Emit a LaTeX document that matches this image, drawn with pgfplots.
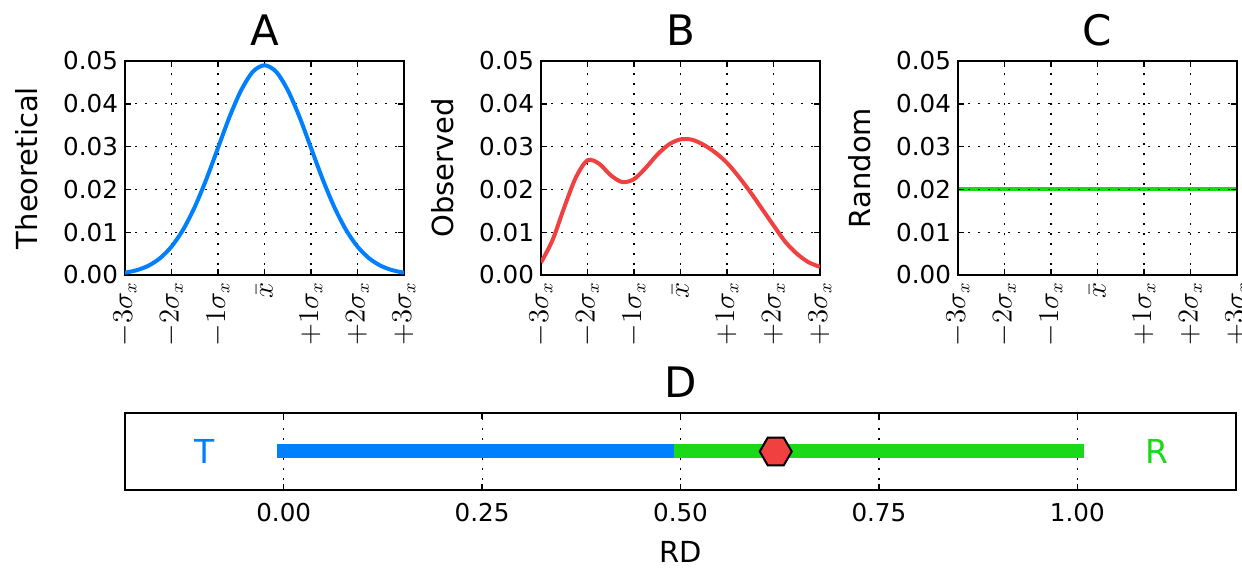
\documentclass[border=0pt]{standalone}
\usepackage{pgfplots}
\pgfplotsset{compat=1.18}
\usepackage{fontspec}
\setmainfont{DejaVu Sans}
\definecolor{cblue}{rgb}{0.0,0.5,1.0}
\definecolor{cred}{rgb}{0.94,0.25,0.25}
\definecolor{cgreen}{rgb}{0.1,0.85,0.1}
\pgfdeclareplotmark{hexagon}{%
  \pgfpathmoveto{\pgfqpointpolar{0}{\pgfplotmarksize}}%
  \pgfpathlineto{\pgfqpointpolar{60}{\pgfplotmarksize}}%
  \pgfpathlineto{\pgfqpointpolar{120}{\pgfplotmarksize}}%
  \pgfpathlineto{\pgfqpointpolar{180}{\pgfplotmarksize}}%
  \pgfpathlineto{\pgfqpointpolar{240}{\pgfplotmarksize}}%
  \pgfpathlineto{\pgfqpointpolar{300}{\pgfplotmarksize}}%
  \pgfpathclose
  \pgfusepathqfillstroke}
\pgfplotsset{
  common/.style={
    scale only axis,
    axis line style={black, line width=1pt},
    tick style={black, line width=0.7pt},
    major tick length=3pt,
    tick align=inside,
    grid=major,
    major grid style={black, line width=0.6pt, dash pattern=on 1pt off 4pt},
    ticklabel style={font=\fontsize{12.3}{14}\selectfont},
    title style={font=\fontsize{21}{25}\selectfont, yshift=-2pt},
    label style={font=\fontsize{14.5}{17}\selectfont},
    scaled ticks=false,
  },
  panel/.style={
    common,
    width=139.5pt, height=107pt,
    xmin=-3, xmax=3, ymin=0, ymax=0.05,
    xtick={-3,-2,-1,0,1,2,3},
    xticklabels={$-3\sigma_x$,$-2\sigma_x$,$-1\sigma_x$,$\bar{x}$,$+1\sigma_x$,$+2\sigma_x$,$+3\sigma_x$},
    xticklabel style={rotate=90, anchor=east, font=\fontsize{13.5}{16}\selectfont},
    ytick={0,0.01,0.02,0.03,0.04,0.05},
    yticklabels={0.00,0.01,0.02,0.03,0.04,0.05},
    ylabel style={yshift=6pt},
  },
}
\begin{document}
\begin{tikzpicture}
\useasboundingbox (0pt,0pt) rectangle (621pt,284pt);
% A
\begin{axis}[panel, at={(62.5pt,146.5pt)}, anchor=south west, title={A}, ylabel={Theoretical}]
\addplot[cblue, line width=2pt, smooth] coordinates {
(-3,0.00054) (-2.75,0.00112) (-2.5,0.00215) (-2.25,0.0039) (-2,0.00663) (-1.75,0.0106)
(-1.5,0.0159) (-1.25,0.0224) (-1,0.0297) (-0.75,0.0370) (-0.5,0.0432) (-0.25,0.0475)
(0,0.049) (0.25,0.0475) (0.5,0.0432) (0.75,0.0370) (1,0.0297) (1.25,0.0224)
(1.5,0.0159) (1.75,0.0106) (2,0.00663) (2.25,0.0039) (2.5,0.00215) (2.75,0.00112) (3,0.00054)};
\end{axis}
% B
\begin{axis}[panel, at={(270.5pt,146.5pt)}, anchor=south west, title={B}, ylabel={Observed}]
\addplot[cred, line width=2pt, smooth] coordinates {
(-3,0.0029) (-2.75,0.0082) (-2.5,0.0158) (-2.25,0.0228) (-2,0.0268) (-1.75,0.0260)
(-1.5,0.0233) (-1.25,0.0217) (-1,0.0224) (-0.75,0.0250) (-0.5,0.0281) (-0.25,0.0305)
(0,0.0317) (0.25,0.0316) (0.5,0.0304) (0.75,0.0286) (1,0.0262) (1.25,0.0230)
(1.5,0.0194) (1.75,0.0155) (2,0.0116) (2.25,0.0078) (2.5,0.0050) (2.75,0.0030) (3,0.0019)};
\end{axis}
% C
\begin{axis}[panel, at={(479pt,146.5pt)}, anchor=south west, title={C}, ylabel={Random}, axis on top]
\addplot[cgreen, line width=2pt] coordinates {(-3,0.02) (3,0.02)};
\end{axis}
% D
\begin{axis}[common, at={(62.5pt,39pt)}, anchor=south west, width=555.5pt, height=38.5pt,
  xmin=-0.2, xmax=1.2, ymin=-1, ymax=1,
  xtick={0,0.25,0.5,0.75,1}, xticklabels={0.00,0.25,0.50,0.75,1.00},
  ytick=\empty, title={D}, xlabel={RD}, xticklabel style={yshift=-3pt},
  xlabel style={yshift=-3pt}]
\addplot[cblue, line width=7pt, line cap=rect] coordinates {(0,0) (0.5,0)};
\addplot[cgreen, line width=7pt, line cap=rect] coordinates {(0.5,0) (1,0)};
\addplot[only marks, mark=hexagon, mark size=8pt, mark options={fill=cred, draw=black, line width=1pt}] coordinates {(0.62,0)};
\node[cblue, font=\fontsize{16.5}{19}\selectfont] at (axis cs:-0.1,0) {T};
\node[cgreen, font=\fontsize{16.5}{19}\selectfont] at (axis cs:1.1,0) {R};
\end{axis}
\end{tikzpicture}
\end{document}
